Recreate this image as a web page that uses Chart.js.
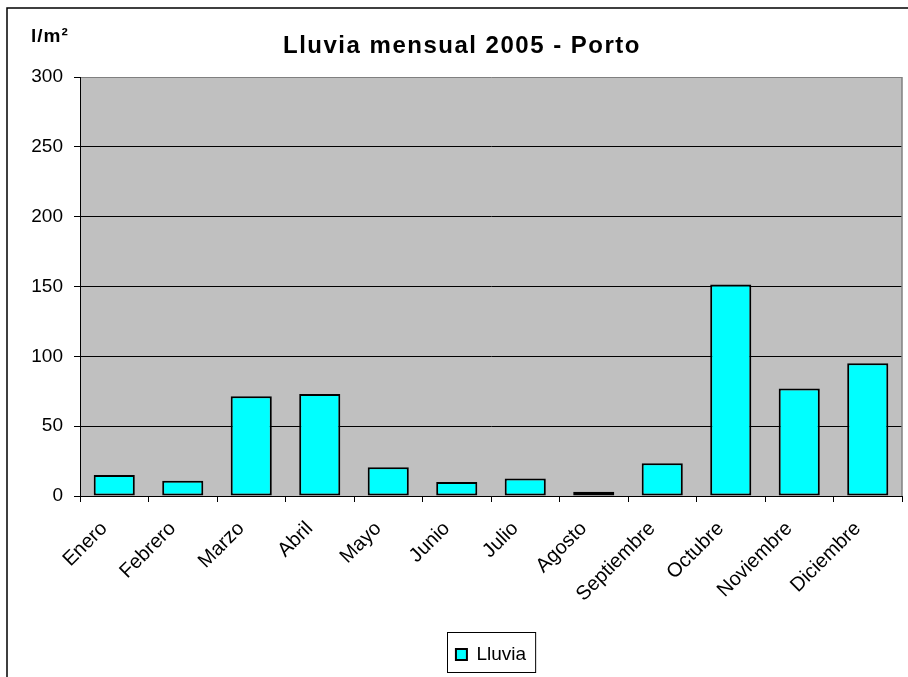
<!DOCTYPE html>
<html>
<head>
<meta charset="utf-8">
<title>Lluvia mensual 2005 - Porto</title>
<script src="https://cdn.jsdelivr.net/npm/chart.js@4.4.0/dist/chart.umd.min.js"></script>
<style>
  html, body { margin: 0; padding: 0; background: #fff; overflow: hidden; }
  #contenedor { position: relative; width: 908px; height: 677px; }
</style>
</head>
<body>
<div id="contenedor"><canvas id="grafico"></canvas></div>
<script>
// Datos de lluvia mensual (l/m²)
const meses = ['Enero', 'Febrero', 'Marzo', 'Abril', 'Mayo', 'Junio', 'Julio', 'Agosto', 'Septiembre', 'Octubre', 'Noviembre', 'Diciembre'];
const lluvia = [15, 11, 71.5, 73, 20.5, 10, 12.5, 3, 23.5, 151.5, 77, 95];
const ejeMin = 0;
const ejeMax = 300;
const paso = 50;

const titulo = 'Lluvia mensual 2005 - Porto';
const unidad = 'l/m²';
const fuente = 'Arial, "Liberation Sans", sans-serif';

// Fondo gris del área del gráfico y marco exterior
const fondo = {
    id: 'fondo',
    beforeDraw(chart) {
        const { ctx, chartArea: a } = chart;
        ctx.save();
        ctx.fillStyle = '#fff';
        ctx.fillRect(0, 0, chart.width, chart.height);
        ctx.fillStyle = '#c0c0c0';
        ctx.fillRect(a.left, a.top, a.right - a.left, a.bottom - a.top);
        // marco del gráfico (solo se ven los bordes izquierdo y superior)
        ctx.strokeStyle = '#000';
        ctx.lineWidth = 1.5;
        ctx.beginPath();
        ctx.moveTo(7, chart.height);
        ctx.lineTo(7, 8);
        ctx.lineTo(chart.width, 8);
        ctx.stroke();
        ctx.restore();
    },
    beforeDatasetsDraw(chart) {
        const { ctx, chartArea: a } = chart;
        ctx.save();
        ctx.strokeStyle = '#808080';
        ctx.lineWidth = 1.5;
        ctx.beginPath();
        ctx.moveTo(a.right, a.bottom);
        ctx.lineTo(a.right, a.top);
        ctx.stroke();
        ctx.restore();
    }
};

// Título, unidad del eje y recuadro de la leyenda
const textos = {
    id: 'textos',
    afterDraw(chart) {
        const ctx = chart.ctx;
        ctx.save();
        ctx.fillStyle = '#000';
        ctx.textBaseline = 'middle';
        ctx.textAlign = 'center';
        ctx.font = 'bold 24px ' + fuente;
        ctx.letterSpacing = '1.5px';
        ctx.fillText(titulo, 462, 46);
        ctx.textAlign = 'left';
        ctx.font = 'bold 19px ' + fuente;
        ctx.letterSpacing = '1px';
        ctx.fillText(unidad, 31, 37);
        ctx.letterSpacing = '0px';

        const caja = chart.legend.legendHitBoxes[0];
        if (caja) {
            ctx.strokeStyle = '#000';
            ctx.lineWidth = 1;
            ctx.strokeRect(Math.round(caja.left) - 8.5, 632.5, caja.width + 18, 40);
        }
        ctx.restore();
    }
};

const ctx = document.getElementById('grafico').getContext('2d');
const chart = new Chart(ctx, {
    type: 'bar',
    data: {
        labels: meses,
        datasets: [{
            label: 'Lluvia',
            data: lluvia,
            backgroundColor: '#00ffff',
            borderColor: '#000',
            borderWidth: 2,
            borderSkipped: false,
            barPercentage: 0.6,
            categoryPercentage: 1
        }]
    },
    options: {
        responsive: true,
        maintainAspectRatio: false,
        animation: false,
        layout: {
            padding: { top: 77, right: 6, bottom: 3, left: 0 }
        },
        plugins: {
            title: { display: false },
            tooltip: { enabled: false },
            legend: {
                position: 'bottom',
                fullSize: false,
                labels: {
                    color: '#000',
                    boxWidth: 11,
                    boxHeight: 11,
                    padding: 10,
                    font: { family: fuente, size: 19 }
                }
            }
        },
        scales: {
            x: {
                grid: {
                    offset: true,
                    drawOnChartArea: false,
                    tickLength: 6,
                    tickColor: '#000'
                },
                border: { color: '#000', width: 1 },
                ticks: {
                    color: '#000',
                    minRotation: 45,
                    maxRotation: 45,
                    autoSkip: false,
                    padding: 15,
                    labelOffset: -10,
                    font: { family: fuente, size: 20 }
                },
                afterFit(scale) { scale.height = 139; }
            },
            y: {
                min: ejeMin,
                max: ejeMax,
                grid: {
                    color: c => c.tick && c.tick.value === ejeMax ? '#808080' : '#000',
                    tickLength: 6,
                    tickColor: '#000'
                },
                border: { color: '#000', width: 1 },
                ticks: {
                    stepSize: paso,
                    color: '#000',
                    padding: 11,
                    font: { family: fuente, size: 19 }
                },
                afterFit(scale) { scale.width = 80; }
            }
        }
    },
    plugins: [fondo, textos]
});
</script>
</body>
</html>
